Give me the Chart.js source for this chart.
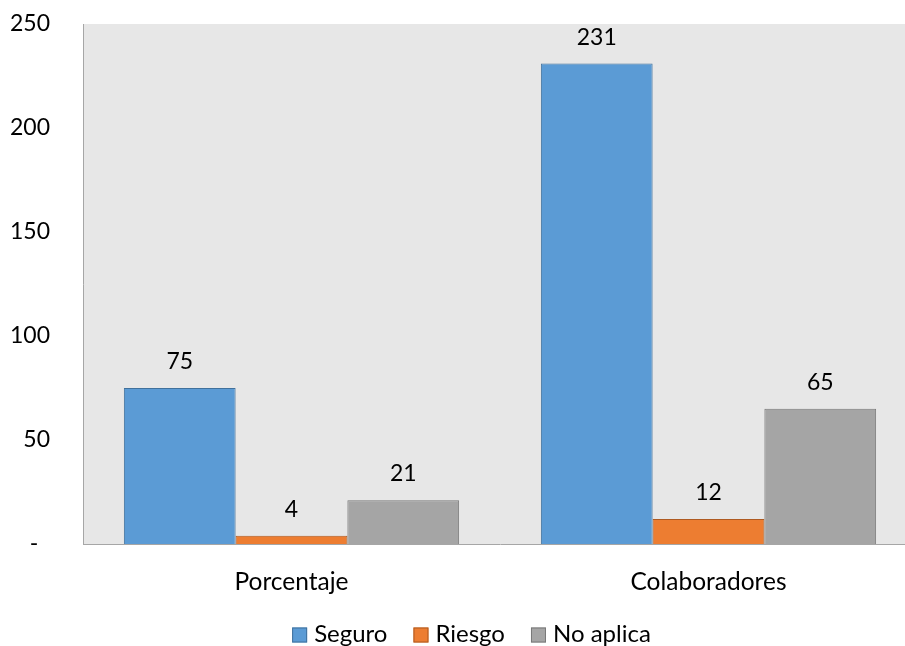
<!DOCTYPE html>
<html>
<head>
<meta charset="utf-8">
<script src="https://cdn.jsdelivr.net/npm/chart.js@4/dist/chart.umd.min.js"></script>
<style>
html,body{margin:0;padding:0;overflow:hidden;background:#fff;}
#wrap{width:905px;height:646px;overflow:hidden;}
</style>
</head>
<body>
<div id="wrap"><canvas id="c" width="943" height="646"></canvas></div>
<script>
const categories = ["Porcentaje", "Colaboradores"];
const seriesNames = ["Seguro", "Riesgo", "No aplica"];
const seguro = [75, 231];
const riesgo = [4, 12];
const noAplica = [21, 65];
const yTicks = [0, 50, 100, 150, 200, 250];

const FONT = "Lato, 'Open Sans', sans-serif";

const bgPlugin = {
  id: 'bg',
  beforeDraw(chart) {
    const {ctx, chartArea: a} = chart;
    ctx.save();
    ctx.fillStyle = '#E7E7E7';
    ctx.fillRect(a.left, a.top, a.right - a.left, a.bottom - a.top);
    ctx.restore();
  }
};

const valuePlugin = {
  id: 'values',
  afterDatasetsDraw(chart) {
    const {ctx} = chart;
    ctx.save();
    ctx.font = "23px " + FONT;
    ctx.fillStyle = '#000';
    ctx.textAlign = 'center';
    ctx.textBaseline = 'alphabetic';
    chart.data.datasets.forEach((ds, i) => {
      const meta = chart.getDatasetMeta(i);
      meta.data.forEach((bar, j) => {
        ctx.fillText(String(ds.data[j]), bar.x, bar.y - 19);
      });
    });
    ctx.restore();
  }
};

const legendPlugin = {
  id: 'customLegend',
  afterDraw(chart) {
    const {ctx} = chart;
    const dss = chart.data.datasets;
    ctx.save();
    ctx.font = "24px " + FONT;
    const box = 15, gap = 7, itemGap = 26;
    const widths = dss.map(d => box + gap + ctx.measureText(d.label).width);
    const total = widths.reduce((s, w) => s + w, 0) + itemGap * (dss.length - 1);
    let x = chart.width / 2 - total / 2;
    const cy = 635;
    dss.forEach((d, i) => {
      ctx.fillStyle = d.backgroundColor;
      ctx.fillRect(x, cy - box / 2, box, box);
      ctx.strokeStyle = d.borderColor;
      ctx.lineWidth = 1;
      ctx.strokeRect(x + 0.5, cy - box / 2 + 0.5, box - 1, box - 1);
      ctx.fillStyle = '#000';
      ctx.textAlign = 'left';
      ctx.textBaseline = 'middle';
      ctx.fillText(d.label, x + box + gap, cy - 1);
      x += widths[i] + itemGap;
    });
    ctx.restore();
  }
};

new Chart(document.getElementById('c'), {
  type: 'bar',
  data: {
    labels: categories,
    datasets: [
      {label: seriesNames[0], data: seguro, backgroundColor: '#5B9BD5', borderColor: '#41719C', borderWidth: 1},
      {label: seriesNames[1], data: riesgo, backgroundColor: '#ED7D31', borderColor: '#AE5A21', borderWidth: 1},
      {label: seriesNames[2], data: noAplica, backgroundColor: '#A5A5A5', borderColor: '#787878', borderWidth: 1}
    ]
  },
  options: {
    responsive: false,
    animation: false,
    devicePixelRatio: 1,
    layout: {padding: {top: 24, right: 26, left: 0, bottom: 0}},
    datasets: {bar: {categoryPercentage: 0.804, barPercentage: 1.0}},
    plugins: {
      tooltip: {enabled: false},
      legend: {display: false}
    },
    scales: {
      x: {
        afterFit(scale) { scale.height = 102; scale.paddingLeft = 0; scale.paddingRight = 0; },
        grid: {display: false, drawTicks: false},
        border: {display: true, color: '#A6A6A6', width: 1},
        ticks: {font: {family: FONT, size: 24.5}, color: '#000', padding: 23}
      },
      y: {
        min: 0, max: 250,
        afterFit(scale) { scale.width = 83; scale.paddingTop = 0; scale.paddingBottom = 0; },
        afterBuildTicks(scale) { scale.ticks = yTicks.map(v => ({value: v})); },
        grid: {display: false, drawTicks: false},
        border: {display: true, color: '#A6A6A6', width: 1},
        ticks: {
          font: {family: FONT, size: 23}, color: '#000', padding: 33,
          callback: (v) => v === 0 ? '-  ' : String(v)
        }
      }
    }
  },
  plugins: [bgPlugin, valuePlugin, legendPlugin]
});
</script>
</body>
</html>
